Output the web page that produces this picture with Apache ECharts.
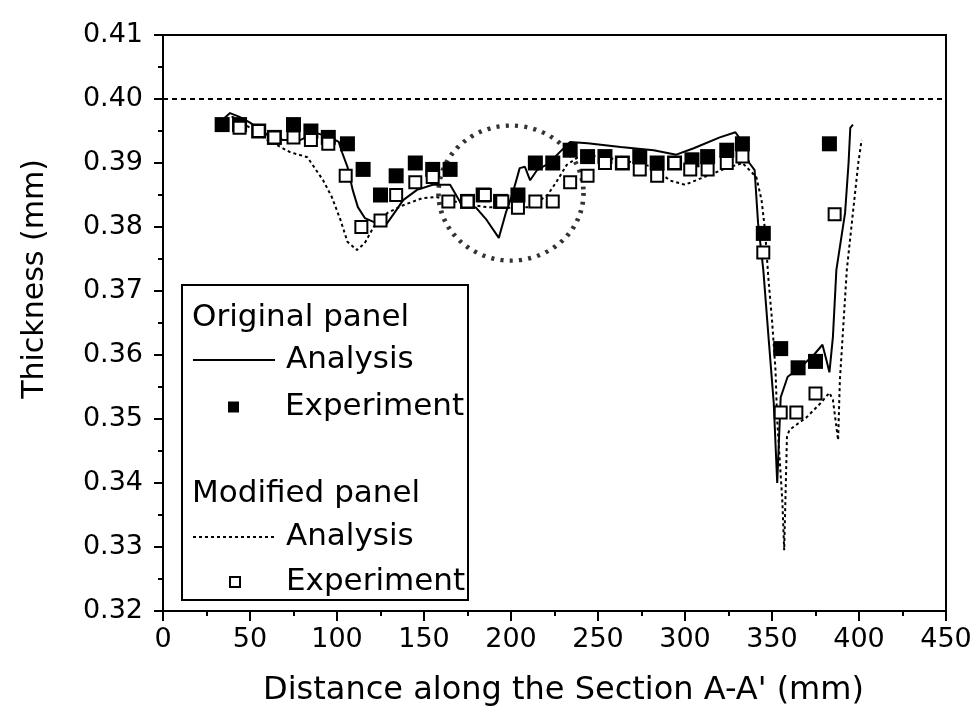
<!DOCTYPE html>
<html>
<head>
<meta charset="utf-8">
<script src="https://cdn.jsdelivr.net/npm/echarts@6/dist/echarts.min.js"></script>
<style>
  html, body { margin: 0; padding: 0; background: #fff; }
  #main { width: 975px; height: 717px; }
</style>
</head>
<body>
<div id="main"></div>
<script>
// axis ticks
const xTicks = [0, 50, 100, 150, 200, 250, 300, 350, 400, 450];
const yTicks = [0.32, 0.33, 0.34, 0.35, 0.36, 0.37, 0.38, 0.39, 0.40, 0.41];
const nominalThickness = 0.40;

// Original panel - experiment (filled squares)
const origExpX = [34, 44, 55, 64, 75, 85, 95, 106, 115, 125, 134, 145, 155, 165, 175, 184, 194, 204, 214, 224,
  234, 244, 254, 264, 274, 284, 294, 304, 313, 324, 333, 345, 355, 365, 375, 383];
const origExpY = [0.396, 0.396, 0.395, 0.394, 0.396, 0.395, 0.394, 0.393, 0.389, 0.385, 0.388, 0.390, 0.389, 0.389,
  0.384, 0.385, 0.384, 0.385, 0.390, 0.390, 0.392, 0.391, 0.391, 0.390, 0.391, 0.390, 0.390, 0.3905, 0.391, 0.392,
  0.393, 0.379, 0.361, 0.358, 0.359, 0.393];

// Modified panel - experiment (open squares)
const modExpX = [44, 55, 64, 75, 85, 95, 105, 114, 125, 134, 145, 155, 164, 175, 185, 195, 204, 214, 224,
  234, 244, 254, 264, 274, 284, 294, 303, 313, 324, 333, 345, 355, 364, 375, 386];
const modExpY = [0.3955, 0.395, 0.394, 0.394, 0.3936, 0.393, 0.388, 0.380, 0.381, 0.385, 0.387, 0.3878, 0.384,
  0.384, 0.385, 0.384, 0.383, 0.384, 0.384, 0.387, 0.388, 0.390, 0.390, 0.389, 0.388, 0.390, 0.389, 0.389, 0.390,
  0.391, 0.376, 0.351, 0.351, 0.354, 0.382];

// Original panel - analysis (solid line)
const origAnaX = [33, 36, 38.5, 44, 50, 60, 69, 79, 88, 96, 101, 103, 106, 109, 112, 116, 121, 128, 133, 138, 146,
  155, 165, 171, 180, 186, 193, 197, 201, 205, 208, 211, 215, 222, 228, 234, 244, 263, 282, 295, 305, 320, 329, 331,
  337, 340, 342, 345, 348, 351, 353, 355, 359, 366, 374, 379, 381, 383, 385, 387, 392, 394, 395, 396.5];
const origAnaY = [0.396, 0.3972, 0.3978, 0.3972, 0.3963, 0.3944, 0.3936, 0.3936, 0.3947, 0.394, 0.3933, 0.3916,
  0.3894, 0.3858, 0.3831, 0.3814, 0.3808, 0.3803, 0.3822, 0.3842, 0.3858, 0.3866, 0.3866, 0.3838, 0.383, 0.3811,
  0.3783, 0.3822, 0.3853, 0.3892, 0.3894, 0.3873, 0.3889, 0.390, 0.3917, 0.3933, 0.3931, 0.3925, 0.392, 0.3913,
  0.3923, 0.394, 0.3948, 0.394, 0.390, 0.3889, 0.3806, 0.3733, 0.3628, 0.3525, 0.340, 0.3534, 0.3566, 0.358, 0.360,
  0.3616, 0.3595, 0.3573, 0.3628, 0.3733, 0.3822, 0.390, 0.3955, 0.396];

// Modified panel - analysis (dotted line)
const modAnaX = [36, 40, 50, 60, 65.5, 73, 83, 86, 92, 97, 102, 106, 111.5, 116, 121, 129, 138, 149, 157, 172, 186,
  199, 211, 221, 226, 232, 238, 245, 263, 282, 291, 300, 310, 322, 333, 341, 344, 346, 348, 350, 352, 353, 356, 357,
  358.6, 360, 370, 378, 383, 385, 388, 389, 393, 396.5, 399.6, 401.5];
const modAnaY = [0.397, 0.3972, 0.3955, 0.3936, 0.3928, 0.3917, 0.3909, 0.3897, 0.3873, 0.3847, 0.3811, 0.3777,
  0.3764, 0.3775, 0.380, 0.3822, 0.3834, 0.3845, 0.3847, 0.3837, 0.3831, 0.383, 0.3831, 0.385, 0.387, 0.3897,
  0.3908, 0.3912, 0.3905, 0.3894, 0.3873, 0.3866, 0.3877, 0.389, 0.390, 0.3878, 0.3842, 0.3795, 0.3717, 0.3655,
  0.3577, 0.3498, 0.3369, 0.3295, 0.3472, 0.3483, 0.3503, 0.3525, 0.3541, 0.353, 0.3467, 0.356, 0.3733, 0.3822,
  0.390, 0.3936];

// highlighted region (dotted ellipse)
const circleCenter = [200, 0.3853];

const zip = (xs, ys) => xs.map((x, i) => [x, ys[i]]);

const FONT = 'DejaVu Sans';
const legendText = { fontFamily: FONT, fontSize: 31, color: '#000', lineHeight: 34 };
const chart = echarts.init(document.getElementById('main'));

const option = {
  animation: false,
  backgroundColor: '#fff',
  grid: {
    left: 163, top: 35, right: 29, bottom: 106,
    show: true, borderColor: '#000', borderWidth: 2
  },
  xAxis: {
    type: 'value',
    min: xTicks[0], max: xTicks[xTicks.length - 1], interval: 50,
    name: "Distance along the Section A-A' (mm)",
    nameLocation: 'middle', nameGap: 64,
    nameTextStyle: { fontFamily: FONT, fontSize: 32, color: '#000', padding: [0, 0, 0, 18] },
    axisLine: { lineStyle: { color: '#000', width: 2 } },
    axisTick: { length: 10, lineStyle: { color: '#000', width: 2 } },
    minorTick: { show: true, splitNumber: 2, length: 5, lineStyle: { color: '#000', width: 2 } },
    axisLabel: { fontFamily: FONT, fontSize: 27, color: '#000', margin: 15 },
    splitLine: { show: false }
  },
  yAxis: {
    type: 'value',
    min: yTicks[0], max: yTicks[yTicks.length - 1], interval: 0.01,
    name: 'Thickness (mm)',
    nameLocation: 'middle', nameGap: 113,
    nameTextStyle: { fontFamily: FONT, fontSize: 30, color: '#000', padding: [0, 0, 0, 88] },
    axisLine: { lineStyle: { color: '#000', width: 2 } },
    axisTick: { length: 9, lineStyle: { color: '#000', width: 2 } },
    minorTick: { show: true, splitNumber: 2, length: 5, lineStyle: { color: '#000', width: 2 } },
    axisLabel: {
      fontFamily: FONT, fontSize: 27, color: '#000', margin: 20,
      formatter: v => v.toFixed(2)
    },
    splitLine: { show: false }
  },
  legend: [
    {
      data: ['Original Analysis'],
      left: 187, top: 338, itemWidth: 82, itemHeight: 14,
      itemStyle: { opacity: 0 },
      formatter: n => n.split(' ')[1],
      textStyle: Object.assign({ padding: [0, 0, 0, 6] }, legendText)
    },
    {
      data: ['Original Experiment'],
      left: 223, top: 385, itemWidth: 11, itemHeight: 11,
      formatter: n => n.split(' ')[1],
      textStyle: Object.assign({ padding: [0, 0, 0, 41] }, legendText)
    },
    {
      data: ['Modified Analysis'],
      left: 187, top: 515, itemWidth: 82, itemHeight: 14,
      itemStyle: { opacity: 0 },
      formatter: n => n.split(' ')[1],
      textStyle: Object.assign({ padding: [0, 0, 0, 6] }, legendText)
    },
    {
      data: ['Modified Experiment'],
      left: 224, top: 560, itemWidth: 10, itemHeight: 10,
      formatter: n => n.split(' ')[1],
      textStyle: Object.assign({ padding: [0, 0, 0, 41] }, legendText)
    }
  ],
  graphic: [
    { type: 'rect', shape: { x: 182, y: 285, width: 286, height: 315 },
      style: { fill: 'none', stroke: '#000', lineWidth: 2 }, z: 50 },
    { type: 'text', left: 192, top: 302, z: 51,
      style: { text: 'Original panel', font: '31px "DejaVu Sans"', fill: '#000' } },
    { type: 'text', left: 192, top: 478, z: 51,
      style: { text: 'Modified panel', font: '31px "DejaVu Sans"', fill: '#000' } }
  ],
  series: [
    {
      name: 'Highlight',
      type: 'scatter',
      silent: true,
      data: [circleCenter],
      symbol: 'circle',
      symbolSize: [145, 135],
      itemStyle: { color: 'rgba(0,0,0,0)', borderColor: '#000', borderWidth: 4.5, borderType: [3, 6] },
      z: 1
    },
    {
      name: 'Original Analysis',
      type: 'line',
      data: zip(origAnaX, origAnaY),
      symbol: 'none',
      lineStyle: { color: '#000', width: 2 },
      itemStyle: { color: '#000' },
      markLine: {
        silent: true, symbol: 'none',
        label: { show: false },
        lineStyle: { color: '#000', width: 2, type: [5, 4] },
        data: [{ yAxis: nominalThickness }]
      },
      z: 3
    },
    {
      name: 'Original Experiment',
      type: 'scatter',
      data: zip(origExpX, origExpY),
      symbol: 'rect',
      symbolSize: 15,
      itemStyle: { color: '#000', opacity: 1 },
      z: 4
    },
    {
      name: 'Modified Analysis',
      type: 'line',
      data: zip(modAnaX, modAnaY),
      symbol: 'none',
      lineStyle: { color: '#000', width: 2, type: [3, 3] },
      itemStyle: { color: '#000' },
      z: 3
    },
    {
      name: 'Modified Experiment',
      type: 'scatter',
      data: zip(modExpX, modExpY),
      symbol: 'rect',
      symbolSize: 12,
      itemStyle: { color: '#fff', borderColor: '#000', borderWidth: 2, opacity: 1 },
      z: 5
    }
  ]
};

chart.setOption(option);
</script>
</body>
</html>
